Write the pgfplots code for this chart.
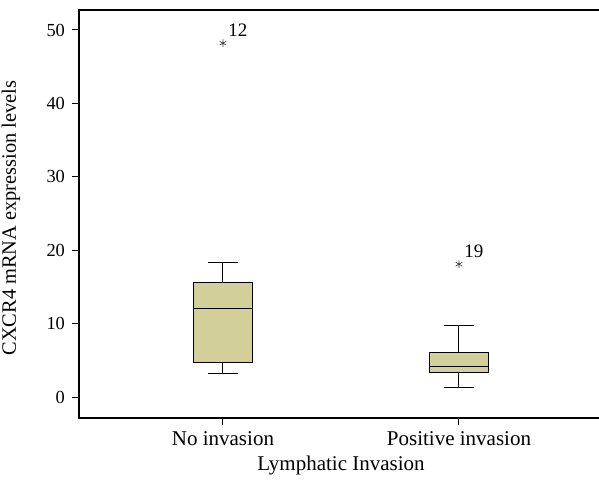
\documentclass[border=0pt]{standalone}
\usepackage{fontspec}
\setmainfont{Liberation Serif}
\usepackage{pgfplots}
\usepgfplotslibrary{statistics}
\pgfplotsset{compat=1.18}
\definecolor{boxfill}{RGB}{211,207,152}

\begin{document}
\begin{tikzpicture}
\clip (-39.5pt,-32.5pt) rectangle (260pt,209pt);
\begin{axis}[
    at={(0,0)}, anchor=south west,
    scale only axis,
    width=262pt, height=204pt,
    xmin=-0.61, xmax=1.6103,
    ymin=-2.86, ymax=52.72,
    boxplot/draw direction=y,
    xtick={0,1},
    xticklabels={No invasion, Positive invasion},
    ytick={0,10,20,30,40,50},
    tick align=outside,
    xtick pos=left, ytick pos=left,
    major tick length=3.5pt,
    axis line style={line width=0.7pt},
    tick style={black, line width=0.5pt},
    /pgf/number format/assume math mode=true,
    yticklabel style={font=\fontsize{9.2}{11}\selectfont},
    xticklabel style={font=\fontsize{10.5}{12}\selectfont},
    xlabel={Lymphatic Invasion},
    ylabel={CXCR4 mRNA expression levels},
    every axis x label/.style={at={(axis description cs:0.5,0)}, anchor=center, yshift=-23.5pt, font=\fontsize{10.5}{12}\selectfont},
    every axis y label/.style={at={(axis description cs:0,0.5)}, anchor=center, rotate=90, yshift=34pt, xshift=-2pt, font=\fontsize{10.2}{12}\selectfont},
    clip=false,
]
% No invasion
\addplot[boxplot prepared={draw position=0,
    lower whisker=3.17, lower quartile=4.67, median=12.1,
    upper quartile=15.6, upper whisker=18.3,
    box extend=0.25, whisker extend=0.125},
    draw=black, fill=boxfill, line width=0.5pt]
    coordinates {};
% Positive invasion
\addplot[boxplot prepared={draw position=1,
    lower whisker=1.27, lower quartile=3.36, median=4.22,
    upper quartile=6.0, upper whisker=9.8,
    box extend=0.25, whisker extend=0.125},
    draw=black, fill=boxfill, line width=0.5pt]
    coordinates {};
% outliers
\addplot[only marks, mark=asterisk, mark size=1.9pt, black!75, mark options={line width=0.35pt}]
    coordinates {(0,48.2) (1,18.1)};
\node[anchor=south west, inner sep=0pt, font=\fontsize{9.5}{11}\selectfont]
    at (axis cs:0,48.2) [xshift=2.5pt, yshift=3pt] {12};
\node[anchor=south west, inner sep=0pt, font=\fontsize{9.5}{11}\selectfont]
    at (axis cs:1,18.1) [xshift=2.5pt, yshift=3pt] {19};
\end{axis}
\end{tikzpicture}
\end{document}
